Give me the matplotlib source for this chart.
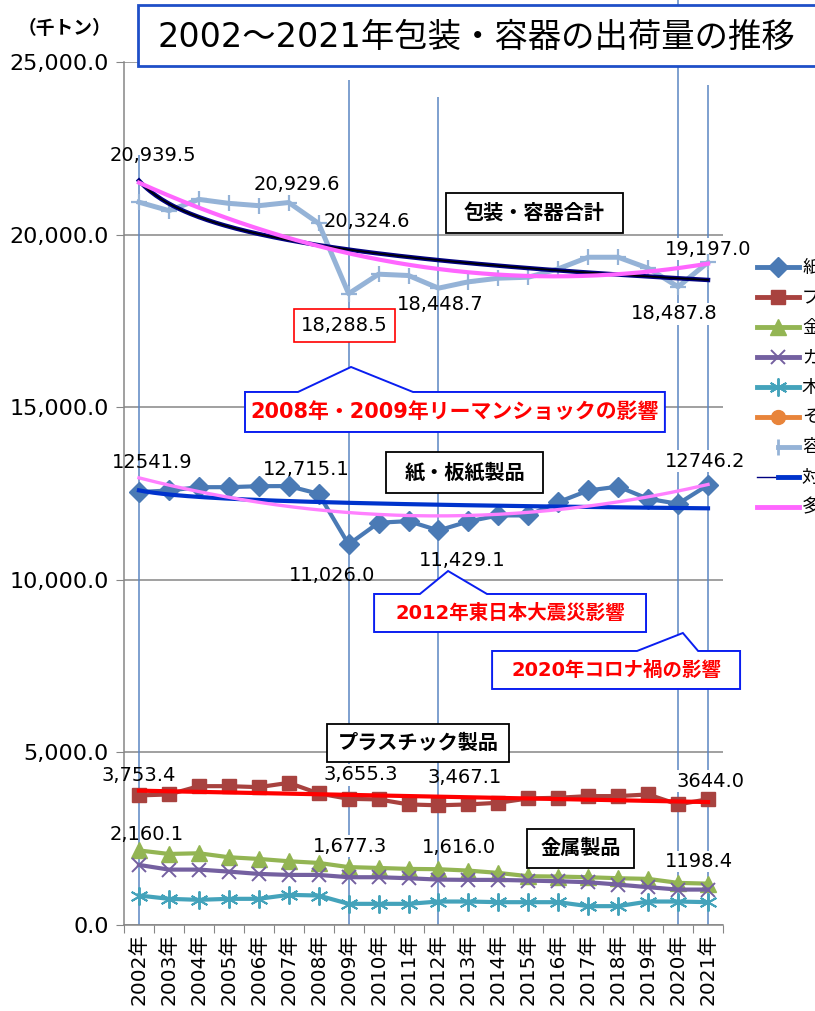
import numpy as np
import matplotlib
matplotlib.use('Agg')
import matplotlib.pyplot as plt
from matplotlib.lines import Line2D
from matplotlib.patches import Polygon, Rectangle

plt.rcParams['font.family'] = ['DejaVu Sans', 'Noto Sans CJK JP']

# ── data (千トン) ────────────────────────────────────────────────────────────
years = [f'{y}年' for y in range(2002, 2022)]

total = [20939.5, 20694, 21020, 20905, 20838, 20929.6, 20324.6, 18288.5, 18853, 18815,
         18448.7, 18632, 18737, 18766, 19008, 19344, 19344, 19026, 18487.8, 19197.0]
paper = [12541.9, 12587, 12683, 12683, 12712, 12715.1, 12491, 11026.0, 11653, 11700,
         11429.1, 11691, 11865, 11865, 12249, 12587, 12700, 12346, 12202, 12746.2]
plastic = [3753.4, 3782, 4022, 4022, 3993, 4118, 3811, 3655.3, 3638, 3493,
           3467.1, 3493, 3541, 3667, 3686, 3734, 3734, 3782, 3493, 3644.0]
metal = [2160.1, 2058, 2078, 1963, 1914, 1847, 1798, 1677.3, 1653, 1625,
         1616.0, 1576, 1509, 1413, 1403, 1384, 1355, 1336, 1220, 1198.4]
glass = [1740, 1605, 1605, 1547, 1480, 1451, 1451, 1384, 1384, 1355,
         1315, 1307, 1307, 1287, 1267, 1239, 1171, 1095, 1026, 1026]
wood = [854, 758, 729, 758, 758, 873, 854, 613, 613, 613,
        680, 680, 661, 661, 661, 546, 546, 680, 680, 661]

legend_labels = ['紙・板紙製品', 'プラスチック製品', '金属製品', 'ガラス製品', '木製品',
                 'その他', '容器包装合計', '対数 (容器包装合計)', '多項式 (紙・板紙製品)']

# (series, year index, use comma, dx px, dy px, white background)
value_labels = [
    ('total', 0, True, 14, 47, False), ('total', 5, True, 8, 18, False),
    ('total', 6, True, 48, 2, False), ('total', 10, True, 2, -16, False),
    ('total', 18, True, -4, -27, True), ('total', 19, True, 0, 13, True),
    ('paper', 0, False, 13, 30, False), ('paper', 5, True, 18, 17, False),
    ('paper', 7, True, -17, -31, False), ('paper', 10, True, 24, -30, False),
    ('paper', 19, False, -3, 24, True),
    ('plastic', 0, True, 0, 20, False), ('plastic', 7, True, 12, 24, True),
    ('plastic', 10, True, 26, 28, False), ('plastic', 19, False, 2, 18, True),
    ('metal', 0, True, 8, 16, False), ('metal', 7, True, 1, 21, True),
    ('metal', 10, True, 20, 22, False), ('metal', 19, False, -9, 22, True),
]

W, H = 815, 1011
fig = plt.figure(figsize=(W / 100, H / 100), dpi=100)
ax = fig.add_axes([124 / W, 1 - 925 / H, 599 / W, 863 / H])
x = np.arange(len(years))
series = {'total': total, 'paper': paper, 'plastic': plastic, 'metal': metal}

ax.set_xlim(-0.5, 19.5)
ax.set_ylim(0, 25000)

# event marker lines
vcol = '#5B86C2'
for xi, top in [(0, 22300), (7, 24480), (10, 23990), (18, 26800), (19, 24340)]:
    ax.vlines(xi, 0, top, color=vcol, lw=1.1, zorder=1, clip_on=False)

# main series
ax.plot(x, total, color='#95B3D7', lw=3.6, marker='+', ms=12, mew=1.6, zorder=4)
ax.plot(x, paper, color='#4A7AB5', lw=3.0, marker='D', ms=10, zorder=4)
ax.plot(x, plastic, color='#A8423F', lw=3.0, marker='s', ms=10, zorder=4)
ax.plot(x, metal, color='#93B553', lw=3.0, marker='^', ms=11, zorder=4)
ax.plot(x, glass, color='#7460A0', lw=3.0, marker='x', ms=10, mew=1.4, zorder=4)
ax.plot(x, wood, color='#44A3BB', lw=3.0, marker=(6, 2, 0), ms=13, mew=1.4, zorder=4)

# trendlines (Excel style: x = 1..20)
xs = np.arange(1, 21)
xf = np.linspace(1, 20, 200)
b, a = np.polyfit(np.log(xs), total, 1)
ax.plot(xf - 1, a + b * np.log(xf), color='#000080', lw=3.2, zorder=5)
ax.plot(xf - 1, a + b * np.log(xf), color='black', lw=1.2, zorder=5)
ax.plot(xf - 1, np.polyval(np.polyfit(xs, total, 2), xf), color='#FF66FF', lw=3.0, zorder=5)
b, a = np.polyfit(np.log(xs), paper, 1)
ax.plot(xf - 1, a + b * np.log(xf), color='#0033CC', lw=3.0, zorder=5)
ax.plot(xf - 1, np.polyval(np.polyfit(xs, paper, 2), xf), color='#FF80FF', lw=2.4, zorder=5)
ax.plot(xf - 1, np.polyval(np.polyfit(xs, plastic, 1), xf), color='#FF0000', lw=3.0, zorder=5)

# value labels
for name, i, comma, dx, dy, bg in value_labels:
    v = series[name][i]
    txt = f'{v:,.1f}' if comma else f'{v:.1f}'
    bbox = dict(facecolor='white', edgecolor='none', pad=1) if bg else None
    ax.annotate(txt, (i, v), xytext=(dx, dy), textcoords='offset pixels',
                ha='center', va='center', fontsize=14, zorder=3, bbox=bbox)

# the 2009 low gets a red frame
ax.annotate(f'{total[7]:,.1f}', (7, total[7]), xytext=(-4, -32), textcoords='offset pixels',
            ha='center', va='center', fontsize=14, zorder=3,
            bbox=dict(facecolor='white', edgecolor='red', lw=1.2, boxstyle='square,pad=0.35'))


def label_box(x0, x1, y0, y1, text):
    ax.add_patch(Rectangle((x0, y0), x1 - x0, y1 - y0, facecolor='white',
                           edgecolor='black', lw=1.3, zorder=6))
    ax.text((x0 + x1) / 2, (y0 + y1) / 2, text, ha='center', va='center',
            fontsize=14.5, fontweight='bold', zorder=7)


label_box(10.25, 16.16, 20046, 21205, '包装・容器合計')
label_box(8.25, 13.49, 12515, 13703, '紙・板紙製品')
label_box(6.28, 12.35, 4722, 5823, 'プラスチック製品')
label_box(12.96, 16.53, 1651, 2781, '金属製品')


def callout(x0, x1, y0, y1, p0, apex, p1, ytip, text, fs):
    pts = [(x0, y1), (p0, y1), (apex, ytip), (p1, y1), (x1, y1), (x1, y0), (x0, y0)]
    ax.add_patch(Polygon(pts, closed=True, facecolor='white', edgecolor='#0A1EF0',
                         lw=1.4, zorder=6, clip_on=False))
    ax.text((x0 + x1) / 2, (y0 + y1) / 2, text, ha='center', va='center', color='#FF0000',
            fontsize=fs, fontweight='bold', zorder=7, clip_on=False)


callout(3.54, 17.56, 14282, 15441, 5.31, 7.08, 9.15, 16165,
        '2008年・2009年リーマンショックの影響', 15)
callout(7.85, 16.93, 8488, 9589, 9.38, 10.32, 11.62, 10255, '2012年東日本大震災影響', 14)
callout(11.79, 20.07, 6837, 7938, 16.63, 18.16, 18.67, 8459, '2020年コロナ禍の影響', 14)

# axes styling
gcol = '#868686'
ax.set_yticks(np.arange(0, 25001, 5000))
ax.set_yticklabels([f'{v:,.1f}' for v in np.arange(0, 25001, 5000)])
ax.yaxis.grid(True, color=gcol, lw=1.1, zorder=0)
ax.set_axisbelow(True)
for s in ['top', 'right']:
    ax.spines[s].set_visible(False)
for s in ['left', 'bottom']:
    ax.spines[s].set_color(gcol)
    ax.spines[s].set_linewidth(1.1)
ax.tick_params(axis='y', length=6, color=gcol, pad=5, labelsize=16)
ax.set_xticks(np.arange(-0.5, 20, 1))
ax.set_xticklabels([])
ax.set_xticks(x, minor=True)
ax.set_xticklabels(years, minor=True, rotation=90, fontsize=14.5, va='top', ha='center')
ax.tick_params(axis='x', which='major', length=6, color=gcol)
ax.tick_params(axis='x', which='minor', length=0, pad=6)

fig.text(65 / W, 1 - 28 / H, '（千トン）', ha='center', va='center', fontsize=13.5,
         fontweight='bold', family=['Noto Sans CJK JP'])

# title box
fig.add_artist(Rectangle((138 / W, 1 - 66 / H), 0.9, 61 / H, transform=fig.transFigure,
                         facecolor='white', edgecolor='#1F4FC8', lw=2, zorder=10))
fig.text(158 / W, 1 - 37 / H, '2002～2021年包装・容器の出荷量の推移', ha='left', va='center',
         fontsize=24, zorder=11)

# legend, drawn by hand on the right edge
leg_styles = [
    dict(color='#4A7AB5', marker='D', ms=10),
    dict(color='#A8423F', marker='s', ms=10),
    dict(color='#93B553', marker='^', ms=11),
    dict(color='#7460A0', marker='x', ms=10, mew=1.4),
    dict(color='#44A3BB', marker=(6, 2, 0), ms=13, mew=1.4),
    dict(color='#E8843A', marker='o', ms=10),
    dict(color='#95B3D7', marker='|', ms=12, mew=2),
    dict(color='#0033CC'),
    dict(color='#FF66FF'),
]
for k, (lab, st) in enumerate(zip(legend_labels, leg_styles)):
    yy = 1 - (267 + 30 * k) / H
    if k == 6:
        fig.add_artist(Line2D([778 / W, 799 / W], [yy, yy], lw=3.5, color=st['color'],
                              transform=fig.transFigure))
        fig.add_artist(Line2D([778 / W], [yy], ls='none', transform=fig.transFigure, **st))
    elif k == 7:
        fig.add_artist(Line2D([757 / W, 799 / W], [yy, yy], lw=1, color='#000080',
                              transform=fig.transFigure))
        fig.add_artist(Line2D([778 / W, 799 / W], [yy, yy], lw=3.5, color=st['color'],
                              transform=fig.transFigure))
    else:
        fig.add_artist(Line2D([757 / W, 799 / W], [yy, yy], lw=3.5, color=st['color'],
                              transform=fig.transFigure))
        if 'marker' in st:
            fig.add_artist(Line2D([778 / W], [yy], ls='none', transform=fig.transFigure, **st))
    # labels run off the right edge of the canvas
    fig.text(802 / W, yy, lab, ha='left', va='center', fontsize=13, family=['Noto Sans CJK JP'])

fig.savefig('out.png', dpi=100)
